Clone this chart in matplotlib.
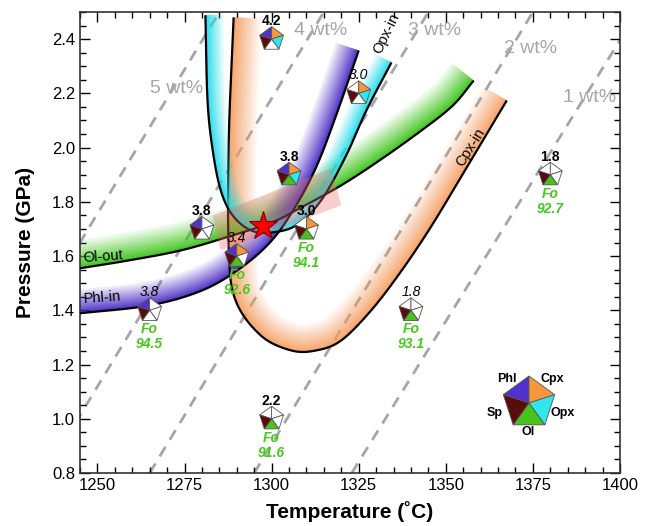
import numpy as np
import matplotlib
matplotlib.use("Agg")
import matplotlib.pyplot as plt
from matplotlib.patches import Polygon

plt.rcParams["font.family"] = ["Liberation Sans", "DejaVu Sans"]

# ---------------- data ----------------
# phase boundaries: temperature (deg C) and pressure (GPa)
ol_out_T = [1245, 1259, 1274, 1288, 1300, 1308, 1320, 1331, 1343, 1352, 1358]
ol_out_P = [1.555, 1.584, 1.621, 1.673, 1.724, 1.776, 1.861, 1.953, 2.063, 2.155, 2.247]

phl_in_T = [1245, 1265, 1280, 1291, 1300, 1307, 1313, 1318.5, 1325]
phl_in_P = [1.389, 1.418, 1.473, 1.555, 1.657, 1.786, 1.934, 2.118, 2.358]

opx_in_T = [1281.0, 1281.6, 1283.1, 1285.4, 1288.8, 1294.0, 1299.8, 1307.0, 1314.2, 1321.4, 1327.2, 1334.4]
opx_in_P = [2.488, 2.174, 1.989, 1.842, 1.750, 1.695, 1.687, 1.713, 1.805, 1.971, 2.137, 2.314]

cpx_in_T = [1289.1, 1287.7, 1287.7, 1289.7, 1296.9, 1305.6, 1312.8, 1320.0, 1328.6, 1337.3, 1345.9, 1354.6, 1363.2, 1367.5]
cpx_in_P = [2.480, 2.030, 1.620, 1.435, 1.307, 1.252, 1.252, 1.289, 1.400, 1.546, 1.711, 1.897, 2.081, 2.174]

# melt H2O isopleths: temperature at 0.8 GPa and at 2.5 GPa
iso_labels = ["5 wt%", "4 wt%", "3 wt%", "2 wt%", "1 wt%"]
iso_T_low = [1205, 1235, 1265, 1295, 1323]
iso_T_high = [1285, 1315, 1345, 1375, 1405]
iso_label_T = [1272.7, 1314.0, 1346.9, 1374.3, 1391.3]
iso_label_P = [2.218, 2.432, 2.432, 2.366, 2.185]

# experiments: conditions, melt H2O, phase assemblage, olivine Fo
exp_T = [1300, 1325, 1305, 1280, 1290, 1310, 1265, 1340, 1300, 1380]
exp_P = [2.4, 2.2, 1.9, 1.7, 1.6, 1.7, 1.4, 1.4, 1.0, 1.9]
exp_h2o = ["4.2", "3.0", "3.8", "3.8", "3.4", "3.0", "3.8", "1.8", "2.2", "1.8"]
exp_bold = [True, False, True, True, False, True, False, False, True, True]
exp_fo = [None, None, None, None, "92.6", "94.1", "94.5", "93.1", "91.6", "92.7"]
# phases present, order: Phl, Cpx, Opx, Ol, Sp
exp_phases = [
    [1, 1, 1, 0, 1],
    [0, 1, 1, 0, 1],
    [1, 1, 1, 1, 1],
    [1, 0, 0, 0, 1],
    [1, 1, 0, 1, 1],
    [0, 1, 0, 1, 1],
    [1, 0, 0, 0, 1],
    [0, 0, 0, 1, 1],
    [0, 0, 0, 1, 1],
    [0, 0, 0, 1, 1],
]
phase_names = ["Phl", "Cpx", "Opx", "Ol", "Sp"]
phase_colors = ["#5230cc", "#f7963a", "#33e6ee", "#46c41c", "#5a0c0c"]

star_T, star_P = 1297.5, 1.71
err_T = [1283.1, 1285.4, 1320.0, 1317.1]
err_P = [1.749, 1.621, 1.787, 1.923]

# ---------------- figure ----------------
fig = plt.figure(figsize=(6.48, 5.26), dpi=100)
ax = fig.add_axes([80 / 648, 1 - 473 / 526, 540 / 648, 461 / 526])
ax.set_xlim(1245, 1400)
ax.set_ylim(0.8, 2.5)
fig.canvas.draw()

to_px = ax.transData.transform
to_data = ax.transData.inverted().transform


def catmull(pts, n=12):
    pts = np.asarray(pts, float)
    p = np.vstack([2 * pts[0] - pts[1], pts, 2 * pts[-1] - pts[-2]])
    out = []
    for i in range(1, len(p) - 2):
        p0, p1, p2, p3 = p[i - 1], p[i], p[i + 1], p[i + 2]
        for t in np.linspace(0, 1, n, endpoint=False):
            out.append(0.5 * ((2 * p1) + (-p0 + p2) * t
                              + (2 * p0 - 5 * p1 + 4 * p2 - p3) * t ** 2
                              + (-p0 + 3 * p1 - 3 * p2 + p3) * t ** 3))
    out.append(pts[-1])
    return np.array(out)


def boundary(T, P, color, width, side=1, z=2, peak=0.95, nlay=30):
    px = catmull(to_px(np.column_stack([T, P])))
    d = np.gradient(px, axis=0)
    nrm = np.column_stack([-d[:, 1], d[:, 0]])
    nrm /= np.linalg.norm(nrm, axis=1)[:, None]
    a = 1 - (1 - peak) ** (1 / nlay)
    for j in range(1, nlay + 1):
        r = width * (1 - (1 - (1 - a) ** (j - 1)) / peak)
        if r <= 0.3:
            continue
        outer = px + side * r * nrm
        poly = np.vstack([px, outer[::-1]])
        ax.add_patch(Polygon(to_data(poly), closed=True, facecolor=color,
                             edgecolor="none", alpha=a, zorder=z))
    line = to_data(px)
    ax.plot(line[:, 0], line[:, 1], color="black", lw=1.6, zorder=z + 0.5,
            solid_capstyle="butt")


# isopleths
for tl, th in zip(iso_T_low, iso_T_high):
    ax.plot([tl, th], [0.8, 2.5], color="#a6a6a6", lw=2.0, dashes=(4, 3), zorder=1)
for lab, t, p in zip(iso_labels, iso_label_T, iso_label_P):
    ax.text(t, p, lab, color="#a6a6a6", fontsize=14, ha="center", va="center", zorder=1.2)

# phase-boundary bands
boundary(cpx_in_T, cpx_in_P, "#f8a060", 28, side=1, z=2.0, peak=0.9)
boundary(ol_out_T, ol_out_P, "#3cc818", 28, side=1, z=2.2)
boundary(phl_in_T, phl_in_P, "#4a2ac8", 24, side=1, z=2.4)
boundary(opx_in_T, opx_in_P, "#22e0ee", 18, side=1, z=2.6)

# uncertainty region and preferred condition
ax.add_patch(Polygon(np.column_stack([err_T, err_P]), closed=True,
                     facecolor="#f07070", edgecolor="none", alpha=0.35, zorder=3.2))
ax.plot([star_T], [star_P], marker="*", ms=21, color="#ff0000",
        markeredgecolor="#7a0000", markeredgewidth=0.8, zorder=8)

# boundary labels
ax.text(1251.6, 1.598, "Ol-out", fontsize=10.5, rotation=4, ha="center", va="center", zorder=7)
ax.text(1251.3, 1.447, "Phl-in", fontsize=10.5, rotation=4, ha="center", va="center", zorder=7)
ax.text(1333.0, 2.42, "Opx-in", fontsize=10.5, rotation=64, ha="center", va="center", zorder=7)
ax.text(1357.0, 2.0, "Cpx-in", fontsize=10.5, rotation=58, ha="center", va="center", zorder=7)


def pentagon(cx, cy, fills, r, z=5):
    """cx, cy in pixels; fills: list of colors per phase (Phl, Cpx, Opx, Ol, Sp)."""
    ang = np.deg2rad([90, 18, -54, -126, 162])
    v = np.column_stack([cx + r * np.cos(ang), cy + r * np.sin(ang)])
    c = np.array([cx, cy])
    sectors = {"Cpx": (0, 1), "Opx": (1, 2), "Ol": (2, 3), "Sp": (3, 4), "Phl": (4, 0)}
    for k, name in enumerate(phase_names):
        i, j = sectors[name]
        tri = to_data(np.vstack([c, v[i], v[j]]))
        ax.add_patch(Polygon(tri, closed=True, facecolor=fills[k],
                             edgecolor="#555555", lw=0.6, zorder=z))


for T, P, h, b, fo, ph in zip(exp_T, exp_P, exp_h2o, exp_bold, exp_fo, exp_phases):
    cx, cy = to_px((T, P))
    fills = [phase_colors[k] if ph[k] else "white" for k in range(5)]
    pentagon(cx, cy, fills, 12.5)
    tx, ty = to_data((cx, cy + 18))
    ax.text(tx, ty, h, fontsize=10, fontweight="bold" if b else "normal",
            fontstyle="normal" if b else "italic", ha="center", va="center", zorder=7)
    if fo:
        fx, fy = to_data((cx, cy - 19))
        ax.text(fx, fy, "Fo", fontsize=10, fontweight="bold", fontstyle="italic",
                color="#46c81e", ha="center", va="center", zorder=7)
        fx, fy = to_data((cx, cy - 34))
        ax.text(fx, fy, fo, fontsize=10, fontweight="bold", fontstyle="italic",
                color="#46c81e", ha="center", va="center", zorder=7)

# phase key
kx, ky = 529, 526 - 403
pentagon(kx, ky, phase_colors, 27)
for name, dx, dy in [("Phl", -22, 24), ("Cpx", 23, 24), ("Sp", -34, -10),
                     ("Opx", 34, -10), ("Ol", -1, -29)]:
    tx, ty = to_data((kx + dx, ky + dy))
    ax.text(tx, ty, name, fontsize=9, fontweight="bold", ha="center", va="center", zorder=7)

# axes styling
ax.set_xticks([1250, 1275, 1300, 1325, 1350, 1375, 1400])
ax.set_xticks(np.arange(1245, 1401, 5), minor=True)
ax.set_yticks([0.8, 1.0, 1.2, 1.4, 1.6, 1.8, 2.0, 2.2, 2.4])
ax.set_yticks(np.arange(0.8, 2.501, 0.05), minor=True)
ax.tick_params(which="both", direction="in", top=True, right=True, labelsize=12, width=1.0)
ax.tick_params(which="major", length=7)
ax.tick_params(which="minor", length=4)
for s in ax.spines.values():
    s.set_linewidth(1.2)
    s.set_color("#333333")
ax.set_xlabel("Temperature (˚C)", fontsize=15, fontweight="bold", labelpad=6)
ax.set_ylabel("Pressure (GPa)", fontsize=15, fontweight="bold", labelpad=12)

fig.savefig("out.png", dpi=100)
